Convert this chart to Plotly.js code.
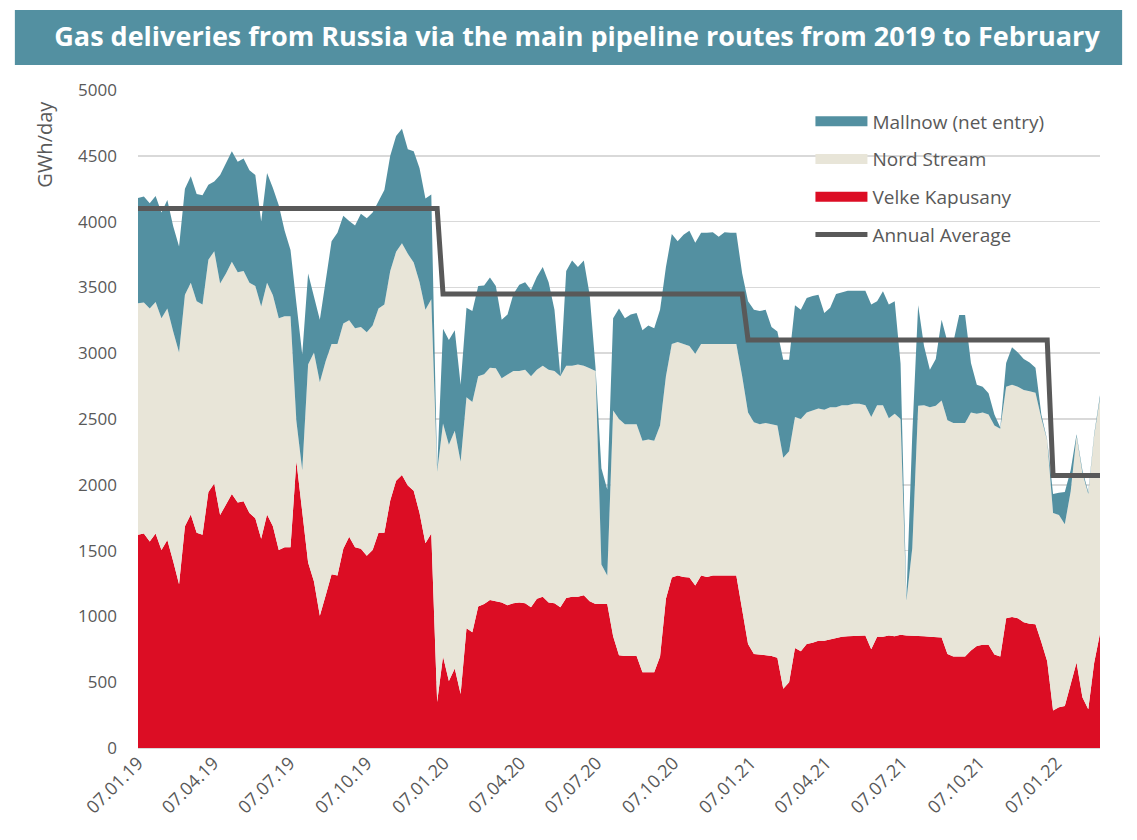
<!DOCTYPE html>
<html>
<head>
<meta charset="utf-8">
<script src="https://cdn.plot.ly/plotly-3.0.1.min.js"></script>
<style>
  html, body { margin: 0; padding: 0; background: #ffffff; }
  #graph { width: 1137px; height: 840px; }
</style>
</head>
<body>
<div id="graph"></div>
<script>
// weekly values, GWh/day, first week starting 07.01.2019
const firstWeek = '2019-01-07';

const velke = [
  1620, 1630, 1570, 1630, 1505, 1580, 1420, 1245, 1685, 1775,
  1635, 1620, 1945, 2010, 1770, 1850, 1930, 1865, 1875, 1785,
  1745, 1590, 1775, 1685, 1505, 1525, 1525, 2180, 1800, 1410,
  1265, 1005, 1160, 1320, 1310, 1515, 1605, 1525, 1515, 1460,
  1505, 1635, 1635, 1880, 2030, 2075, 1995, 1955, 1785, 1555,
  1630, 350, 695, 510, 605, 410, 910, 880, 1075, 1095,
  1125, 1115, 1105, 1085, 1100, 1105, 1100, 1070, 1135, 1150,
  1105, 1100, 1070, 1140, 1150, 1150, 1160, 1115, 1095, 1095,
  1095, 850, 705, 700, 700, 700, 575, 575, 575, 695,
  1135, 1295, 1310, 1300, 1295, 1235, 1310, 1300, 1310, 1310,
  1310, 1310, 1310, 1050, 790, 715, 710, 710, 700, 685,
  450, 500, 760, 735, 790, 800, 815, 815, 825, 840,
  845, 850, 850, 850, 855, 750, 845, 845, 855, 850,
  860, 855, 855, 850, 850, 845, 840, 840, 715, 695,
  695, 695, 740, 775, 785, 785, 710, 695, 985, 995,
  985, 955, 945, 940, 805, 660, 285, 310, 320, 480,
  650, 385, 295, 645, 870
];

const nordStream = [
  1760, 1755, 1770, 1760, 1760, 1760, 1745, 1760, 1760, 1760,
  1760, 1750, 1765, 1765, 1760, 1755, 1765, 1750, 1750, 1750,
  1765, 1765, 1760, 1755, 1760, 1755, 1755, 305, 310, 1505,
  1740, 1775, 1780, 1750, 1760, 1710, 1645, 1665, 1685, 1700,
  1705, 1705, 1735, 1745, 1740, 1760, 1760, 1735, 1755, 1775,
  1780, 1750, 1770, 1795, 1805, 1765, 1755, 1750, 1750, 1745,
  1765, 1770, 1705, 1755, 1765, 1760, 1775, 1755, 1740, 1755,
  1770, 1765, 1755, 1765, 1755, 1765, 1745, 1770, 1770, 300,
  215, 1715, 1795, 1760, 1760, 1760, 1760, 1770, 1760, 1755,
  1690, 1775, 1775, 1770, 1760, 1760, 1760, 1770, 1760, 1765,
  1760, 1760, 1760, 1775, 1760, 1760, 1750, 1760, 1760, 1765,
  1755, 1755, 1755, 1765, 1760, 1765, 1765, 1755, 1765, 1750,
  1760, 1755, 1765, 1765, 1750, 1765, 1760, 1760, 1650, 1690,
  1640, 265, 665, 1750, 1755, 1745, 1760, 1800, 1775, 1775,
  1775, 1775, 1810, 1765, 1765, 1750, 1740, 1730, 1760, 1765,
  1760, 1765, 1765, 1760, 1700, 1675, 1500, 1460, 1380, 1470,
  1720, 1705, 1635, 1725, 1790
];

const mallnow = [
  800, 805, 800, 805, 805, 825, 800, 805, 805, 810,
  815, 830, 570, 530, 825, 840, 840, 840, 855, 855,
  845, 645, 835, 815, 860, 650, 505, 895, 880, 690,
  420, 475, 610, 780, 845, 820, 755, 780, 860, 865,
  860, 820, 870, 875, 880, 870, 795, 845, 865, 845,
  795, 10, 720, 795, 765, 585, 680, 690, 685, 675,
  685, 625, 445, 455, 585, 655, 665, 655, 705, 750,
  665, 465, 5, 720, 800, 740, 800, 560, 25, 730,
  655, 700, 840, 805, 835, 845, 840, 865, 855, 880,
  830, 835, 765, 830, 875, 845, 845, 845, 850, 810,
  850, 845, 845, 780, 845, 855, 860, 860, 740, 715,
  745, 695, 850, 830, 870, 870, 865, 735, 755, 860,
  855, 870, 860, 860, 870, 855, 790, 865, 865, 855,
  420, 20, 865, 765, 450, 285, 355, 615, 595, 615,
  820, 820, 375, 220, 195, 160, 85, 10, 180, 285,
  260, 235, 220, 190, 30, 5, 145, 170, 245, 160,
  15, 20, 15, 15, 20
];

const avgYears = [2019, 2020, 2021, 2022];
const annualAverage = [4100, 3450, 3100, 2070];

const seriesNames = ['Mallnow (net entry)', 'Nord Stream', 'Velke Kapusany', 'Annual Average'];
const colors = {
  mallnow: '#5390A1',
  nord: '#E8E5D8',
  velke: '#DC0D24',
  avg: '#595959',
  text: '#595959',
  grid: '#D9D9D9'
};

// weekly dates
const dates = velke.map((v, i) => {
  const d = new Date(firstWeek + 'T00:00:00Z');
  d.setUTCDate(d.getUTCDate() + 7 * i);
  return d.toISOString().slice(0, 10);
});
const avgLine = dates.map(d => annualAverage[avgYears.indexOf(+d.slice(0, 4))]);

const areaTrace = (y, name, color) => ({
  x: dates,
  y: y,
  name: name,
  type: 'scatter',
  mode: 'lines',
  stackgroup: 'pipes',
  line: { width: 0, color: color },
  fillcolor: color,
  showlegend: false,
  hoverinfo: 'x+y+name'
});

// legend entries only (wide block swatches like the original)
const legendEntry = (name, color, width, rank) => ({
  x: [null],
  y: [null],
  name: name,
  type: 'scatter',
  mode: 'lines',
  line: { color: color, width: width },
  legendrank: rank,
  legendgroup: name
});

const traces = [
  areaTrace(velke, seriesNames[2], colors.velke),
  areaTrace(nordStream, seriesNames[1], colors.nord),
  areaTrace(mallnow, seriesNames[0], colors.mallnow),
  {
    x: dates,
    y: avgLine,
    name: seriesNames[3],
    type: 'scatter',
    mode: 'lines',
    line: { color: colors.avg, width: 5 },
    legendrank: 4,
    legendgroup: seriesNames[3]
  },
  legendEntry(seriesNames[0], colors.mallnow, 11, 1),
  legendEntry(seriesNames[1], colors.nord, 11, 2),
  legendEntry(seriesNames[2], colors.velke, 11, 3)
];

const layout = {
  width: 1137,
  height: 840,
  margin: { l: 138, r: 37, t: 90, b: 92 },
  paper_bgcolor: '#ffffff',
  plot_bgcolor: '#ffffff',
  font: { family: 'Open Sans, sans-serif', color: colors.text },
  title: {
    text: 'Gas deliveries from Russia via the main pipeline routes from 2019 to February',
    x: 0.5075,
    xref: 'container',
    xanchor: 'center',
    y: 0.957,
    yref: 'container',
    yanchor: 'middle',
    font: { family: 'Open Sans, sans-serif', size: 27, color: '#ffffff', weight: 700 }
  },
  shapes: [{
    type: 'rect',
    xref: 'paper', yref: 'paper',
    x0: -0.128, x1: 1.023, y0: 1.038, y1: 1.1216,
    fillcolor: colors.mallnow,
    line: { width: 0 },
    layer: 'below'
  }],
  xaxis: {
    type: 'date',
    range: [dates[0], dates[dates.length - 1]],
    tick0: firstWeek,
    dtick: 'M3',
    tickformat: '%d.%m.%y',
    tickangle: -45,
    tickfont: { size: 18, color: colors.text },
    showgrid: false,
    showline: false,
    zeroline: false,
    ticks: ''
  },
  yaxis: {
    range: [0, 5000],
    dtick: 500,
    tickformat: 'd',
    tickfont: { size: 17, color: colors.text },
    gridcolor: colors.grid,
    gridwidth: 1.5,
    zeroline: true,
    zerolinecolor: colors.grid,
    zerolinewidth: 1.5,
    showline: false,
    ticks: '',
    ticklabelstandoff: 20
  },
  showlegend: true,
  legend: {
    x: 0.699,
    y: 0.981,
    xanchor: 'left',
    yanchor: 'top',
    bgcolor: 'rgba(0,0,0,0)',
    font: { size: 19, color: colors.text },
    itemwidth: 52,
    tracegroupgap: 10
  },
  annotations: [{
    text: 'GWh/day',
    xref: 'paper', yref: 'paper',
    x: -0.097, y: 0.918,
    xanchor: 'center', yanchor: 'middle',
    textangle: -90,
    showarrow: false,
    font: { size: 20, color: colors.text }
  }]
};

Plotly.newPlot('graph', traces, layout, { displayModeBar: false, staticPlot: true });
</script>
</body>
</html>
